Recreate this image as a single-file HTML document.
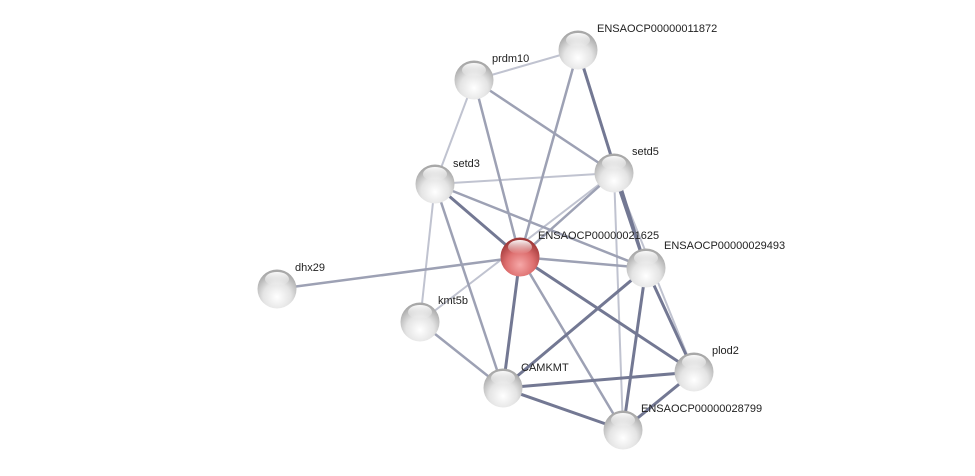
<!DOCTYPE html><html><head><style>body{margin:0;background:#fff}svg{display:block}text{font-family:"Liberation Sans",Arial,sans-serif;font-size:11px;fill:#222}</style></head><body>
<svg width="975" height="476" viewBox="0 0 975 476">
<defs>
<radialGradient id="g" cx="0.5" cy="0.7" r="0.65"><stop offset="0" stop-color="#ffffff"/><stop offset="0.55" stop-color="#e4e4e4"/><stop offset="1" stop-color="#a8a8a8"/></radialGradient>
<radialGradient id="r" cx="0.5" cy="0.7" r="0.65"><stop offset="0" stop-color="#f6a8a8"/><stop offset="0.55" stop-color="#dd6e6e"/><stop offset="1" stop-color="#a03838"/></radialGradient>
<linearGradient id="h" x1="0" y1="0" x2="0" y2="1"><stop offset="0" stop-color="#fff" stop-opacity="0.95"/><stop offset="1" stop-color="#fff" stop-opacity="0"/></linearGradient>
</defs>
<g stroke-linecap="round">
<g stroke="#c0c3d0" stroke-width="2">
<line x1="474" y1="80" x2="578" y2="50"/>
<line x1="435" y1="184" x2="614" y2="173"/>
<line x1="435" y1="184" x2="420" y2="322"/>
<line x1="614" y1="173" x2="420" y2="322"/>
<line x1="614" y1="173" x2="623" y2="430"/>
<line x1="614" y1="173" x2="694" y2="372"/>
<line x1="474" y1="80" x2="435" y2="184"/>
</g>
<g stroke="#9da1b4" stroke-width="2.5">
<line x1="474" y1="80" x2="520" y2="257"/>
<line x1="474" y1="80" x2="614" y2="173"/>
<line x1="578" y1="50" x2="520" y2="257"/>
<line x1="435" y1="184" x2="503" y2="388"/>
<line x1="614" y1="173" x2="520" y2="257"/>
<line x1="520" y1="257" x2="277" y2="289"/>
<line x1="520" y1="257" x2="646" y2="268"/>
<line x1="420" y1="322" x2="503" y2="388"/>
<line x1="520" y1="257" x2="623" y2="430"/>
<line x1="435" y1="184" x2="646" y2="268"/>
</g>
<g stroke="#737893" stroke-width="3">
<line x1="578" y1="50" x2="646" y2="268"/>
<line x1="614" y1="173" x2="646" y2="268"/>
<line x1="435" y1="184" x2="520" y2="257"/>
<line x1="520" y1="257" x2="503" y2="388"/>
<line x1="520" y1="257" x2="694" y2="372"/>
<line x1="646" y1="268" x2="503" y2="388"/>
<line x1="646" y1="268" x2="623" y2="430"/>
<line x1="646" y1="268" x2="694" y2="372"/>
<line x1="503" y1="388" x2="694" y2="372"/>
<line x1="503" y1="388" x2="623" y2="430"/>
<line x1="694" y1="372" x2="623" y2="430"/>
</g>
</g>
<g>
<g transform="translate(578,50)"><circle r="19.5" fill="url(#g)"/><ellipse cx="0" cy="-10" rx="12" ry="7" fill="url(#h)"/></g>
<g transform="translate(474,80)"><circle r="19.5" fill="url(#g)"/><ellipse cx="0" cy="-10" rx="12" ry="7" fill="url(#h)"/></g>
<g transform="translate(614,173)"><circle r="19.5" fill="url(#g)"/><ellipse cx="0" cy="-10" rx="12" ry="7" fill="url(#h)"/></g>
<g transform="translate(435,184)"><circle r="19.5" fill="url(#g)"/><ellipse cx="0" cy="-10" rx="12" ry="7" fill="url(#h)"/></g>
<g transform="translate(520,257)"><circle r="19.5" fill="url(#r)"/><ellipse cx="0" cy="-10" rx="12" ry="7" fill="url(#h)"/></g>
<g transform="translate(646,268)"><circle r="19.5" fill="url(#g)"/><ellipse cx="0" cy="-10" rx="12" ry="7" fill="url(#h)"/></g>
<g transform="translate(277,289)"><circle r="19.5" fill="url(#g)"/><ellipse cx="0" cy="-10" rx="12" ry="7" fill="url(#h)"/></g>
<g transform="translate(420,322)"><circle r="19.5" fill="url(#g)"/><ellipse cx="0" cy="-10" rx="12" ry="7" fill="url(#h)"/></g>
<g transform="translate(694,372)"><circle r="19.5" fill="url(#g)"/><ellipse cx="0" cy="-10" rx="12" ry="7" fill="url(#h)"/></g>
<g transform="translate(503,388)"><circle r="19.5" fill="url(#g)"/><ellipse cx="0" cy="-10" rx="12" ry="7" fill="url(#h)"/></g>
<g transform="translate(623,430)"><circle r="19.5" fill="url(#g)"/><ellipse cx="0" cy="-10" rx="12" ry="7" fill="url(#h)"/></g>
</g>
<g>
<text x="597" y="32">ENSAOCP00000011872</text>
<text x="492" y="62">prdm10</text>
<text x="632" y="155">setd5</text>
<text x="453" y="167">setd3</text>
<text x="538" y="239">ENSAOCP00000021625</text>
<text x="664" y="249">ENSAOCP00000029493</text>
<text x="295" y="271">dhx29</text>
<text x="438" y="304">kmt5b</text>
<text x="712" y="354">plod2</text>
<text x="521" y="371">CAMKMT</text>
<text x="641" y="412">ENSAOCP00000028799</text>
</g>
</svg>
</body></html>
